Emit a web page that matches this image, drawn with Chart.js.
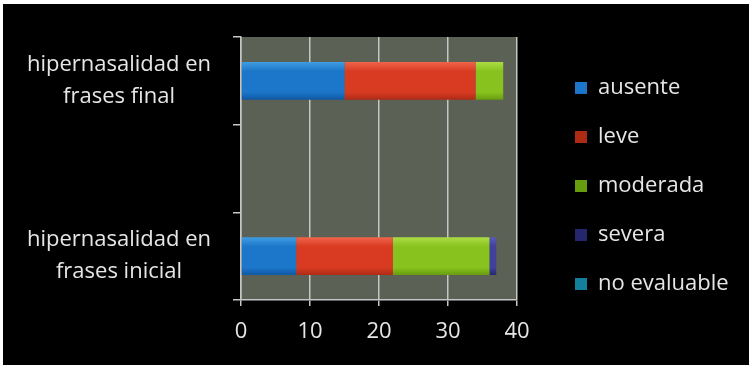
<!DOCTYPE html>
<html>
<head>
<meta charset="utf-8">
<script src="https://cdn.jsdelivr.net/npm/chart.js@4/dist/chart.umd.min.js"></script>
<style>
  html, body { margin: 0; padding: 0; background: #ffffff; }
  #wrap { width: 749px; height: 365px; position: relative; }
</style>
</head>
<body>
<div id="wrap"><canvas id="c"></canvas></div>
<script>
// ---- data ----
const categories = [["hipernasalidad en", "frases final"], "", ["hipernasalidad en", "frases inicial"]];
const seriesNames = ["ausente", "leve", "moderada", "severa", "no evaluable"];
const ausente     = [15, null, 8];
const leve        = [19, null, 14];
const moderada    = [4,  null, 14];
const severa      = [0,  null, 1];
const noEvaluable = [0,  null, 0];
const xTicks = [0, 10, 20, 30, 40];

// ---- styles ----
const palette = [
  { base: "#1c76c9", light: "#3f9de2", dark: "#0f58a3" },
  { base: "#d83b22", light: "#f0654a", dark: "#ad2a14" },
  { base: "#88c21e", light: "#acdd45", dark: "#679c0e" },
  { base: "#40409c", light: "#5a5ab8", dark: "#26266e" },
  { base: "#22a5c8", light: "#4cc3df", dark: "#137f9c" }
];
const FONT = '"Open Sans", "DejaVu Sans", sans-serif';
const FS = 22;
const textColor = "#e6e6e6";
const gridColor = "#c6c6c6";

function grad(i) {
  return function (ctx) {
    const p = palette[i];
    if (ctx.type !== "data") return p.base;
    const c = ctx.chart;
    const ys = c.scales && c.scales.y;
    if (!ys || !c.chartArea) return p.base;
    const yc = ys.getPixelForValue(ctx.dataIndex);
    const h = 19;
    const g = c.ctx.createLinearGradient(0, yc - h, 0, yc + h);
    g.addColorStop(0, p.light);
    g.addColorStop(0.25, p.base);
    g.addColorStop(0.8, p.base);
    g.addColorStop(1, p.dark);
    return g;
  };
}

const seriesData = [ausente, leve, moderada, severa, noEvaluable];
const datasets = seriesNames.map((name, i) => ({
  label: name,
  data: seriesData[i],
  backgroundColor: grad(i),
  borderWidth: 0,
  barPercentage: 0.43,
  categoryPercentage: 1.0
}));

// measurements for layout
const mctx = document.createElement("canvas").getContext("2d");
mctx.font = "normal " + FS + "px " + FONT;
const widest = mctx.measureText("hipernasalidad en").width;
const legendTextW = Math.max(...seriesNames.map(s => mctx.measureText(s).width));
const Y_RIGHT = 241, Y_TICK = 8, LABEL_CENTER = 119;
const yPad = Math.max(0, Y_RIGHT - Y_TICK - LABEL_CENTER - widest / 2);
const LEG_PAD = 27, BOX = 12;
const legendW = LEG_PAD + BOX + FS / 2 + legendTextW + 10;
const PLOT_RIGHT = 517;
const padRight = Math.max(0, 749 - PLOT_RIGHT - legendW);

const bgPlugin = {
  id: "bg",
  beforeDraw(chart) {
    const { ctx, width, height, chartArea } = chart;
    ctx.save();
    ctx.fillStyle = "#ffffff";
    ctx.fillRect(0, 0, width, height);
    ctx.fillStyle = "#000000";
    ctx.fillRect(3, 4, width - 3, height - 4);
    ctx.fillStyle = "#5b6155";
    ctx.fillRect(chartArea.left, chartArea.top, chartArea.right - chartArea.left, chartArea.bottom - chartArea.top);
    ctx.restore();
  }
};

const legendPlace = {
  id: "legendPlace",
  afterLayout(chart) {
    const lg = chart.legend;
    if (!lg) return;
    lg.left = 575 - LEG_PAD; lg.right = lg.left + lg.width;
    lg.top = 77 - LEG_PAD; lg.bottom = lg.top + lg.height;
  }
};

new Chart(document.getElementById("c"), {
  type: "bar",
  data: { labels: categories, datasets },
  options: {
    indexAxis: "y",
    responsive: true,
    maintainAspectRatio: false,
    animation: false,
    layout: { padding: { top: 37, left: 3, right: padRight, bottom: 21 } },
    plugins: {
      legend: {
        position: "right",
        align: "start",
        maxWidth: 400,
        labels: {
          color: textColor,
          font: { family: FONT, size: FS },
          boxWidth: BOX,
          boxHeight: BOX,
          padding: LEG_PAD
        }
      },
      tooltip: { enabled: false }
    },
    scales: {
      x: {
        stacked: true,
        min: 0,
        max: 40,
        afterBuildTicks(scale) { scale.ticks = xTicks.map(v => ({ value: v })); },
        afterFit(scale) { scale.height = 44; scale.paddingLeft = 0; scale.paddingRight = 0; },
        grid: { color: gridColor, lineWidth: 1.5, tickLength: 6, drawTicks: true },
        border: { color: gridColor, width: 1.5 },
        ticks: { color: textColor, font: { family: FONT, size: FS }, padding: 13, maxRotation: 0 }
      },
      y: {
        stacked: true,
        afterFit(scale) { scale.width = 238; scale.paddingTop = 0; scale.paddingBottom = 0; },
        grid: { drawOnChartArea: false, drawTicks: true, tickLength: Y_TICK, color: gridColor, lineWidth: 1.5, offset: true },
        border: { color: gridColor, width: 1.5 },
        ticks: {
          color: textColor,
          font: { family: FONT, size: FS, lineHeight: 1.45 },
          crossAlign: "center",
          padding: yPad
        }
      }
    }
  },
  plugins: [bgPlugin, legendPlace]
});
</script>
</body>
</html>
